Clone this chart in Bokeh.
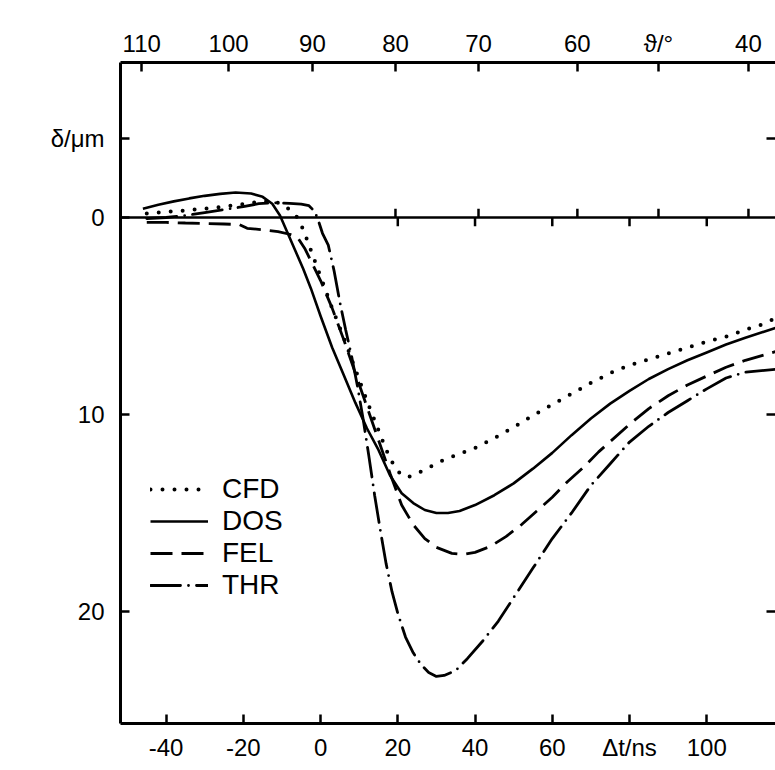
from bokeh.plotting import figure
from bokeh.models import Range1d, LinearAxis, FixedTicker, Span, Legend, LegendItem
from bokeh.embed import file_html
from bokeh.resources import INLINE

# Δt / ns  versus  δ / μm (δ grows downward)
cfd_t = [-45, -40, -35, -30, -25, -20, -16, -13, -10, -8, -6, -4.5, -3, 0, 3, 6, 9, 12, 15, 17, 19, 21, 23, 25,
         28, 32, 36, 40, 45, 50, 55, 60, 65, 70, 75, 80, 85, 90, 95, 100, 105, 110, 114, 118]
cfd_d = [-0.2, -0.28, -0.36, -0.45, -0.55, -0.68, -0.8, -0.85, -0.7, -0.4, 0.0, 0.6, 1.4, 3.0, 4.6, 6.1, 7.7, 9.3,
         10.8, 11.8, 12.6, 13.1, 13.15, 13.0, 12.7, 12.3, 12.0, 11.7, 11.2, 10.65, 10.05, 9.5, 8.95, 8.4, 7.9, 7.5,
         7.2, 6.9, 6.6, 6.3, 6.05, 5.7, 5.45, 5.1]

dos_t = [-46, -42, -38, -34, -30, -26, -22, -18, -15, -12.5, -10.5, -8.5, -6.5, -4.5, -2.5, 0, 3, 6, 9, 12, 15,
         18, 21, 24, 27, 30, 33, 36, 40, 45, 50, 55, 60, 65, 70, 75, 80, 85, 90, 95, 100, 105, 110, 118]
dos_d = [-0.45, -0.65, -0.82, -0.97, -1.1, -1.2, -1.27, -1.22, -1.05, -0.7, -0.1, 0.8, 1.7, 2.6, 3.6, 5.0, 6.6,
         8.0, 9.4, 10.7, 11.8, 13.1, 14.0, 14.5, 14.85, 15.0, 15.0, 14.9, 14.6, 14.1, 13.5, 12.75, 11.95, 11.05,
         10.2, 9.45, 8.8, 8.2, 7.7, 7.25, 6.85, 6.45, 6.1, 5.6]

fel_t = [-45, -40, -35, -30, -25, -21, -19, -15, -11, -8, -6, -4, -2, 0, 3, 6, 9, 12, 15, 18, 21, 24, 27, 30,
         34, 37, 40, 44, 48, 52, 56, 60, 64, 68, 72, 76, 80, 85, 90, 95, 100, 105, 110, 118]
fel_d = [0.25, 0.25, 0.28, 0.3, 0.33, 0.36, 0.55, 0.62, 0.72, 0.85, 1.0, 1.6, 2.4, 3.2, 4.6, 6.2, 7.9, 9.6, 11.3,
         13.0, 14.6, 15.6, 16.3, 16.75, 17.05, 17.1, 17.0, 16.7, 16.2, 15.6, 14.9, 14.2, 13.4, 12.7, 11.9, 11.2,
         10.5, 9.7, 9.05, 8.5, 8.05, 7.6, 7.25, 6.8]

thr_t = [-45, -40, -35, -30, -25, -20, -16, -12, -8, -5, -3, -1.5, -0.5, 0.5, 2, 3.5, 5, 6.5, 8, 9.5, 11, 12.5,
         14, 15.5, 17, 18.5, 20, 22, 24, 26, 28, 30, 32, 35, 38, 42, 46, 50, 55, 60, 65, 70, 75, 80, 85, 90, 95,
         100, 105, 110, 118]
thr_d = [0.05, 0.0, -0.1, -0.25, -0.4, -0.55, -0.7, -0.75, -0.72, -0.68, -0.6, -0.3, 0.2, 0.8, 1.4, 2.7, 4.3,
         5.7, 7.0, 8.5, 10.2, 12.1, 14.1, 15.9, 17.6, 19.0, 20.1, 21.3, 22.1, 22.7, 23.1, 23.3, 23.25, 23.0, 22.4,
         21.5, 20.5, 19.3, 17.8, 16.3, 15.0, 13.6, 12.5, 11.4, 10.6, 9.9, 9.3, 8.7, 8.15, 7.85, 7.7]

series_names = ["CFD", "DOS", "FEL", "THR"]

# tick labels (the 80 ns and 50° positions carry the axis names instead)
dt_ticks = [-40, -20, 0, 20, 40, 60, 80, 100]
delta_ticks = [-4, 0, 10, 20]
theta_labels = [110, 100, 90, 80, 70, 60, 50, 40]
theta_dt = [-46.3, -23.8, -2.1, 19.4, 40.9, 66.5, 87.5, 110.8]

TICK_FONT = "Liberation Sans"
TEXT_FONT = "Liberation Sans"

p = figure(width=775, height=770, output_backend="svg", toolbar_location=None,
           x_range=Range1d(-51.8, 117.8), y_range=Range1d(25.69, -7.87),
           min_border_left=120, min_border_right=0, min_border_top=62, min_border_bottom=47,
           outline_line_color=None, background_fill_color="white", border_fill_color="white")
p.grid.visible = False


def style_axis(ax, size="24px", standoff=8):
    ax.axis_line_color = "black"
    ax.axis_line_width = 3
    ax.major_tick_line_color = "black"
    ax.major_tick_line_width = 2.5
    ax.major_tick_in = 9
    ax.major_tick_out = 0
    ax.minor_tick_line_color = None
    ax.major_label_text_font = TICK_FONT
    ax.major_label_text_font_size = size
    ax.major_label_text_color = "black"
    ax.major_label_standoff = standoff


xb = p.xaxis[0]
xb.ticker = FixedTicker(ticks=dt_ticks)
xb.major_label_overrides = {t: ("Δt/ns" if t == 80 else str(t)) for t in dt_ticks}
style_axis(xb, standoff=10)

yl = p.yaxis[0]
yl.ticker = FixedTicker(ticks=delta_ticks)
yl.major_label_overrides = {t: ("δ/μm" if t == -4 else str(t)) for t in delta_ticks}
style_axis(yl, standoff=16)

top = LinearAxis(ticker=FixedTicker(ticks=theta_dt))
top.major_label_overrides = {t: ("ϑ/°" if l == 50 else str(l)) for t, l in zip(theta_dt, theta_labels)}
style_axis(top, standoff=6)
p.add_layout(top, "above")

right = LinearAxis(ticker=FixedTicker(ticks=[-4, 10, 20]))
style_axis(right, size="0px", standoff=0)
right.axis_line_color = None
right.major_label_overrides = {t: "" for t in [-4, 10, 20]}
p.add_layout(right, "right")

# zero line with its own ticks
p.add_layout(Span(location=0, dimension="width", line_color="black", line_width=2.5))
up = [t for t, l in zip(theta_dt, theta_labels) if l <= 80]
down = [t for t in dt_ticks if t >= 20]
p.segment(x0=up, x1=up, y0=[0] * len(up), y1=[-0.45] * len(up), line_color="black", line_width=2.5)
p.segment(x0=down, x1=down, y0=[0] * len(down), y1=[0.45] * len(down), line_color="black", line_width=2.5)

r_cfd = p.line(cfd_t, cfd_d, line_color="black", line_width=4, line_dash="0 12", line_cap="round")
r_dos = p.line(dos_t, dos_d, line_color="black", line_width=2.6, line_join="round")
r_fel = p.line(fel_t, fel_d, line_color="black", line_width=2.8, line_dash="22 9")
r_thr = p.line(thr_t, thr_d, line_color="black", line_width=2.8, line_dash="30 8 0 8", line_cap="round")

legend = Legend(items=[LegendItem(label=n, renderers=[r]) for n, r in
                       zip(series_names, [r_cfd, r_dos, r_fel, r_thr])],
                location=(30, 122), glyph_width=58, glyph_height=20,
                label_text_font=TEXT_FONT, label_text_font_size="28px", label_text_color="black",
                label_standoff=14, spacing=0, padding=0, margin=0,
                border_line_color=None, background_fill_alpha=0)
p.add_layout(legend)

open("out.html", "w").write(file_html(p, INLINE))
